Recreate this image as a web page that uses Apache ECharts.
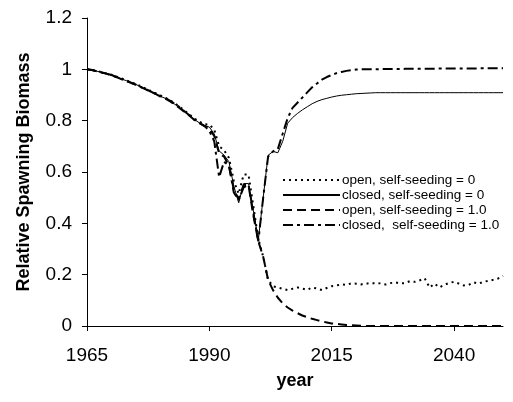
<!DOCTYPE html>
<html>
<head>
<meta charset="utf-8">
<script src="https://cdn.jsdelivr.net/npm/echarts@6/dist/echarts.min.js"></script>
<style>
  html, body { margin: 0; padding: 0; background: #fff; }
  #main { width: 513px; height: 402px; }
</style>
</head>
<body>
<div id="main"></div>
<script>
var myChart = echarts.init(document.getElementById('main'));

var years = [];
for (var y = 1965; y <= 2050; y++) years.push(String(y));

// open, self-seeding = 0
var openZero = [
  1.000, 0.998, 0.994, 0.989, 0.984, 0.979, 0.972, 0.965, 0.957, 0.950,
  0.942, 0.934, 0.925, 0.916, 0.907, 0.898, 0.889, 0.879, 0.867, 0.853,
  0.838, 0.823, 0.808, 0.796, 0.786,
  0.785, 0.765, 0.700, 0.685, 0.655, 0.565, 0.515, 0.590, 0.590, 0.465,
  0.340, 0.270, 0.180, 0.155, 0.150, 0.145, 0.140, 0.145, 0.150, 0.146,
  0.141, 0.150, 0.146, 0.140, 0.148, 0.155, 0.158, 0.162, 0.160, 0.166,
  0.165, 0.162, 0.166, 0.165, 0.168, 0.166, 0.162, 0.167, 0.170, 0.166,
  0.167, 0.175, 0.172, 0.178, 0.186, 0.150, 0.165, 0.150, 0.160, 0.168,
  0.172, 0.165, 0.158, 0.160, 0.170, 0.165, 0.172, 0.176, 0.180, 0.185, 0.195
];
// closed, self-seeding = 0
var closedZero = [
  1.000, 0.997, 0.993, 0.988, 0.983, 0.978, 0.971, 0.963, 0.956, 0.948,
  0.941, 0.932, 0.923, 0.914, 0.905, 0.895, 0.887, 0.876, 0.863, 0.849,
  0.834, 0.819, 0.804, 0.791, 0.781,
  0.775, 0.748, 0.682, 0.666, 0.640, 0.545, 0.480, 0.555, 0.555, 0.450,
  0.335, 0.500, 0.665, 0.680, 0.675, 0.720, 0.790, 0.812, 0.828, 0.842,
  0.854, 0.866, 0.875, 0.882, 0.887, 0.892, 0.896, 0.899, 0.901, 0.903,
  0.905, 0.906, 0.907, 0.908, 0.909, 0.909, 0.909, 0.909, 0.909, 0.909,
  0.909, 0.909, 0.909, 0.909, 0.909, 0.909, 0.909, 0.909, 0.909, 0.909,
  0.909, 0.909, 0.909, 0.909, 0.909, 0.909, 0.909, 0.909, 0.909, 0.909, 0.909
];
// open, self-seeding = 1.0
var openOne = [
  1.000, 0.997, 0.993, 0.988, 0.983, 0.977, 0.970, 0.962, 0.955, 0.947,
  0.940, 0.931, 0.922, 0.913, 0.904, 0.894, 0.886, 0.875, 0.862, 0.848,
  0.833, 0.818, 0.802, 0.790, 0.779,
  0.770, 0.740, 0.672, 0.660, 0.625, 0.530, 0.495, 0.550, 0.548, 0.430,
  0.330, 0.270, 0.180, 0.140, 0.110, 0.088, 0.072, 0.060, 0.050, 0.041,
  0.034, 0.028, 0.023, 0.018, 0.014, 0.010, 0.008, 0.006, 0.004, 0.003,
  0.002, 0.001, 0.000, 0.000, 0.000, 0.000, 0.000, 0.000, 0.000, 0.000,
  0.000, 0.000, 0.000, 0.000, 0.000, 0.000, 0.000, 0.000, 0.000, 0.000,
  0.000, 0.000, 0.000, 0.000, 0.000, 0.000, 0.000, 0.000, 0.000, 0.000, 0.000
];
// closed, self-seeding = 1.0
var closedOne = [
  1.000, 0.997, 0.992, 0.988, 0.982, 0.978, 0.970, 0.963, 0.955, 0.948,
  0.940, 0.931, 0.923, 0.913, 0.905, 0.896, 0.888, 0.877, 0.865, 0.851,
  0.835, 0.820, 0.803, 0.790, 0.780,
  0.760, 0.720, 0.580, 0.640, 0.625, 0.520, 0.490, 0.540, 0.550, 0.440,
  0.330, 0.500, 0.660, 0.680, 0.690, 0.750, 0.810, 0.850, 0.870, 0.890,
  0.910, 0.930, 0.945, 0.960, 0.970, 0.978, 0.985, 0.990, 0.994, 0.997,
  0.999, 1.000, 1.000, 1.000, 1.000, 1.001, 1.001, 1.001, 1.001, 1.001,
  1.002, 1.002, 1.002, 1.002, 1.002, 1.002, 1.002, 1.003, 1.003, 1.003,
  1.003, 1.003, 1.003, 1.003, 1.003, 1.004, 1.004, 1.004, 1.004, 1.004, 1.004
];

var seriesNames = [
  'open, self-seeding = 0',
  'closed, self-seeding = 0',
  'open, self-seeding = 1.0',
  'closed,  self-seeding = 1.0'
];
var yTicks = { min: 0, max: 1.2, step: 0.2 };

var font = 'Liberation Sans, Arial, sans-serif';

function line(name, data, width, type) {
    return {
        name: name,
        type: 'line',
        data: data,
        symbol: 'none',
        silent: true,
        color: '#000',
        itemStyle: { color: '#000' },
        lineStyle: { color: '#000', width: width, type: type }
    };
}

var option = {
    animation: false,
    grid: { left: 87, right: 10, top: 18, bottom: 76 },
    legend: {
        orient: 'vertical',
        left: 277,
        top: 168,
        itemWidth: 57,
        itemHeight: 14,
        itemGap: 1,
        itemStyle: { opacity: 0 },
        textStyle: { fontFamily: font, fontSize: 13.5, color: '#000', padding: [0, 0, 0, -3] },
        data: seriesNames
    },
    xAxis: {
        type: 'category',
        data: years,
        boundaryGap: false,
        name: 'year',
        nameLocation: 'middle',
        nameGap: 46,
        nameTextStyle: { fontFamily: font, fontSize: 18, fontWeight: 'bold', color: '#000' },
        axisLine: { lineStyle: { color: '#000', width: 1 } },
        axisTick: {
            length: 5,
            interval: function (i) { return i % 25 === 0; },
            lineStyle: { color: '#000' }
        },
        axisLabel: {
            interval: function (i) { return i % 25 === 0; },
            fontFamily: font, fontSize: 19, color: '#000', margin: 20
        },
        splitLine: { show: false }
    },
    yAxis: {
        type: 'value',
        min: yTicks.min,
        max: yTicks.max,
        interval: yTicks.step,
        name: 'Relative Spawning Biomass',
        nameLocation: 'middle',
        nameGap: 54,
        nameTextStyle: { fontFamily: font, fontSize: 18, fontWeight: 'bold', color: '#000' },
        axisLine: { show: true, lineStyle: { color: '#000', width: 1 } },
        axisTick: { show: true, length: 5, lineStyle: { color: '#000' } },
        axisLabel: { fontFamily: font, fontSize: 19, color: '#000', margin: 15 },
        splitLine: { show: false }
    },
    series: [
        line(seriesNames[0], openZero, 2, [2, 4]),
        line(seriesNames[1], closedZero, 1, 'solid'),
        line(seriesNames[2], openOne, 2, [9, 5]),
        line(seriesNames[3], closedOne, 2, [10, 4, 3, 4])
    ]
};
myChart.setOption(option);
</script>
</body>
</html>
